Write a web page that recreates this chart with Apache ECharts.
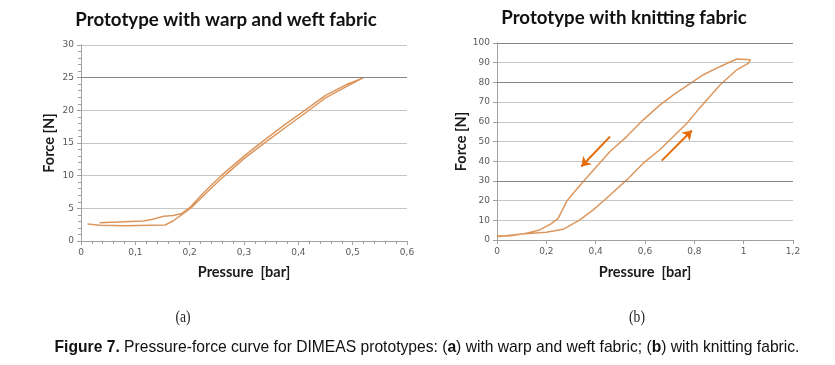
<!DOCTYPE html>
<html><head><meta charset="utf-8">
<script src="https://cdn.jsdelivr.net/npm/echarts@6/dist/echarts.min.js"></script>
<style>html,body{margin:0;padding:0;background:#fff}#c{width:835px;height:365px}</style>
</head><body><div id="c"></div>
<script>
// Chart (a): warp and weft fabric
const titleA = 'Prototype with warp and weft fabric';
const loadA = [[0.012,2.6],[0.035,2.4],[0.08,2.35],[0.155,2.45],[0.17,3.1],[0.19,4.3],[0.203,5.1],[0.23,7.3],[0.263,9.9],[0.3,12.6],[0.341,15.2],[0.38,17.6],[0.418,19.9],[0.45,21.9],[0.49,23.7],[0.52,25]];
const unloadA = [[0.52,25],[0.49,24],[0.45,22.3],[0.412,20],[0.375,17.8],[0.335,15.3],[0.3,13],[0.258,10],[0.227,7.5],[0.2,5.1],[0.185,4.2],[0.17,3.9],[0.152,3.8],[0.13,3.3],[0.115,3.05],[0.08,2.95],[0.034,2.8]];
const darkLinesA = [25];
// Chart (b): knitting fabric
const titleB = 'Prototype with knitting fabric';
const loadB = [[0,1.7],[0.1,3],[0.2,3.9],[0.268,5.4],[0.336,10.2],[0.39,15.3],[0.444,21.2],[0.526,30.5],[0.593,39],[0.66,45.8],[0.77,59.3],[0.81,65.3],[0.905,78.8],[0.972,86.4],[1.02,89.8],[1.027,91.5],[1.02,92.4]];
const unloadB = [[1.02,92.4],[0.972,91.9],[0.905,88.1],[0.837,83.9],[0.796,80.5],[0.715,73.7],[0.661,68.6],[0.593,61],[0.526,52.5],[0.458,44.9],[0.404,37.3],[0.35,29.7],[0.309,23.7],[0.282,19.5],[0.248,11],[0.217,8.1],[0.173,5.1],[0.119,3.4],[0.051,2],[0,2.2]];
const darkLinesB = [100,80,30];
const arrowsB = [[[0.458,52.5],[0.342,37.3]],[[0.668,40.3],[0.79,55.6]]];
const captionA = '(a)', captionB = '(b)';
const figBold = 'Figure 7.';
const figText = ' Pressure-force curve for DIMEAS prototypes: (';
const figParts = ['a', ') with warp and weft fabric; (', 'b', ') with knitting fabric.'];

const curveColor = '#DC975E';
const fmt = v => String(+v.toFixed(2)).replace('.', ',');
const axisLabel = {fontSize: 9, color: '#595959', fontFamily: 'DejaVu Sans', formatter: fmt, margin: 7};
const nameStyle = {fontSize: 14.5, fontWeight: 'bold', color: '#1a1a1a', fontFamily: 'Lato'};
const axisLine = {show: true, lineStyle: {color: '#a0a0a0'}};

const chart = echarts.init(document.getElementById('c'), null, {renderer: 'canvas'});
const darkML = vals => ({silent: true, symbol: 'none', label: {show: false}, animation: false,
  lineStyle: {color: '#858585', type: 'solid', width: 1}, data: vals.map(v => ({yAxis: v}))});

chart.setOption({
  animation: false,
  grid: [
    {left: 81, top: 45, width: 326, height: 196},
    {left: 497, top: 43, width: 296, height: 197}
  ],
  xAxis: [
    {gridIndex: 0, type: 'value', min: 0, max: 0.6, interval: 0.1, axisLine,
     axisTick: {show: true, length: 4, lineStyle: {color: '#a0a0a0'}},
     minorTick: {show: true, splitNumber: 5, length: 3, lineStyle: {color: '#a0a0a0'}},
     splitLine: {show: false}, axisLabel,
     name: 'Pressure  [bar]', nameLocation: 'middle', nameGap: 24, nameTextStyle: nameStyle},
    {gridIndex: 1, type: 'value', min: 0, max: 1.2, interval: 0.2, axisLine,
     axisTick: {show: true, length: 4, lineStyle: {color: '#a0a0a0'}},
     splitLine: {show: false}, axisLabel,
     name: 'Pressure  [bar]', nameLocation: 'middle', nameGap: 25, nameTextStyle: nameStyle}
  ],
  yAxis: [
    {gridIndex: 0, type: 'value', min: 0, max: 30, interval: 5, axisLine,
     axisTick: {show: true, length: 4, lineStyle: {color: '#a0a0a0'}},
     minorTick: {show: true, splitNumber: 5, length: 3, lineStyle: {color: '#a0a0a0'}},
     splitLine: {show: true, lineStyle: {color: '#c6c6c6'}}, axisLabel,
     name: 'Force [N]', nameLocation: 'middle', nameGap: 24, nameTextStyle: nameStyle},
    {gridIndex: 1, type: 'value', min: 0, max: 100, interval: 10, axisLine,
     axisTick: {show: true, length: 4, lineStyle: {color: '#a0a0a0'}},
     splitLine: {show: true, lineStyle: {color: '#c6c6c6'}}, axisLabel,
     name: 'Force [N]', nameLocation: 'middle', nameGap: 26, nameTextStyle: nameStyle}
  ],
  series: [
    {type: 'line', xAxisIndex: 0, yAxisIndex: 0, data: loadA.concat(unloadA), showSymbol: false,
     lineStyle: {color: curveColor, width: 1.5}, itemStyle: {color: curveColor}, markLine: darkML(darkLinesA), z: 3},
    {type: 'line', xAxisIndex: 1, yAxisIndex: 1, data: loadB.concat(unloadB), showSymbol: false,
     lineStyle: {color: curveColor, width: 1.5}, itemStyle: {color: curveColor}, markLine: darkML(darkLinesB), z: 3},
    {type: 'lines', coordinateSystem: 'cartesian2d', xAxisIndex: 1, yAxisIndex: 1,
     symbol: ['none', 'arrow'], symbolSize: 9,
     lineStyle: {color: '#E46C0A', width: 2, opacity: 1},
     data: arrowsB.map(a => ({coords: a})), z: 4}
  ],
  graphic: [
    {type: 'text', x: 226, y: 20, style: {text: titleA, align: 'center', verticalAlign: 'middle', font: 'bold 18.7px Lato', fill: '#111'}},
    {type: 'text', x: 624, y: 18, style: {text: titleB, align: 'center', verticalAlign: 'middle', font: 'bold 18.7px Lato', fill: '#111'}},
    {type: 'text', x: 183, y: 318, scaleX: 0.85, style: {text: captionA, align: 'center', verticalAlign: 'middle', font: '16px "Liberation Serif"', fill: '#222'}},
    {type: 'text', x: 637, y: 318, scaleX: 0.85, style: {text: captionB, align: 'center', verticalAlign: 'middle', font: '16px "Liberation Serif"', fill: '#222'}},
    {type: 'text', x: 427, y: 347, scaleX: 0.92, style: {
      text: '{b|' + figBold + '}{n|' + figText + '}{b|' + figParts[0] + '}{n|' + figParts[1] + '}{b|' + figParts[2] + '}{n|' + figParts[3] + '}',
      align: 'center', verticalAlign: 'middle',
      rich: {
        b: {fontFamily: 'Liberation Sans', fontWeight: 'bold', fontSize: 17, fill: '#111'},
        n: {fontFamily: 'Liberation Sans', fontSize: 17, fill: '#111'}
      }}}
  ]
});
</script></body></html>
